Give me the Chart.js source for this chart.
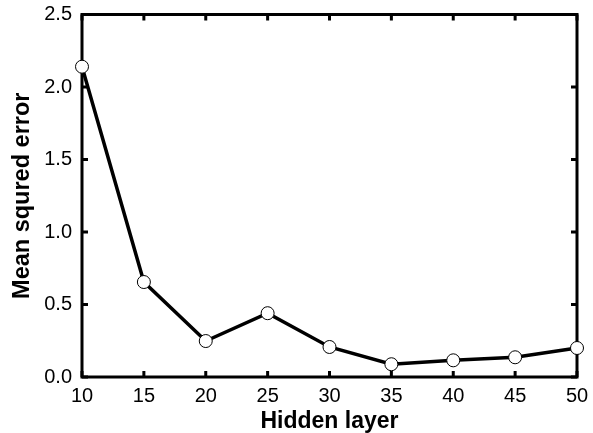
<!DOCTYPE html>
<html>
<head>
<meta charset="utf-8">
<script src="https://cdn.jsdelivr.net/npm/chart.js@4/dist/chart.umd.min.js"></script>
<style>
html,body{margin:0;padding:0;background:#fff;}
#wrap{width:593px;height:433px;position:relative;}
</style>
</head>
<body>
<div id="wrap"><canvas id="c" width="593" height="433"></canvas></div>
<script>
const hiddenLayers = [10, 15, 20, 25, 30, 35, 40, 45, 50];
const mseValues = [2.14, 0.655, 0.248, 0.44, 0.207, 0.088, 0.115, 0.136, 0.20];
const xTicks = [10, 15, 20, 25, 30, 35, 40, 45, 50];
const yTicks = [0.0, 0.5, 1.0, 1.5, 2.0, 2.5];
const xTitle = 'Hidden layer';
const yTitle = 'Mean squred error';

const FONT = "'Liberation Sans', Arial, sans-serif";

const framePlugin = {
  id: 'frame',
  beforeDatasetsDraw(chart) {
    const {ctx, chartArea: a, scales} = chart;
    const tl = 6;
    ctx.save();
    ctx.strokeStyle = '#000';
    ctx.lineWidth = 3;
    ctx.lineCap = 'butt';
    ctx.beginPath();
    xTicks.forEach(v => {
      const px = scales.x.getPixelForValue(v);
      ctx.moveTo(px, a.bottom); ctx.lineTo(px, a.bottom - tl);
      ctx.moveTo(px, a.top); ctx.lineTo(px, a.top + tl);
    });
    yTicks.forEach(v => {
      const py = scales.y.getPixelForValue(v);
      ctx.moveTo(a.left, py); ctx.lineTo(a.left + tl, py);
      ctx.moveTo(a.right, py); ctx.lineTo(a.right - tl, py);
    });
    ctx.stroke();
    ctx.lineJoin = 'miter';
    ctx.strokeRect(a.left, a.top, a.right - a.left, a.bottom - a.top);
    ctx.restore();
  }
};

new Chart(document.getElementById('c'), {
  type: 'line',
  data: {
    datasets: [{
      data: hiddenLayers.map((x, i) => ({x: x, y: mseValues[i]})),
      borderColor: '#000',
      borderWidth: 3.5,
      pointRadius: 6.5,
      pointBackgroundColor: '#fff',
      pointBorderColor: '#000',
      pointBorderWidth: 1,
      tension: 0,
      clip: false
    }]
  },
  options: {
    responsive: false,
    animation: false,
    devicePixelRatio: 1,
    layout: {padding: {top: 14.5, right: 16, left: 0, bottom: 0}},
    plugins: {legend: {display: false}, tooltip: {enabled: false}},
    scales: {
      x: {
        type: 'linear',
        min: 10, max: 50,
        afterBuildTicks: s => { s.ticks = xTicks.map(v => ({value: v})); },
        afterFit: s => { s.height = 56; s.paddingLeft = 0; s.paddingRight = 0; },
        grid: {display: false, drawTicks: false},
        border: {display: false},
        ticks: {color: '#000', font: {family: FONT, size: 20}, padding: 7, maxRotation: 0,
                callback: v => String(v)},
        title: {display: true, text: xTitle, color: '#000',
                font: {family: FONT, size: 23, weight: 'bold'}, padding: {top: 0, bottom: -2}}
      },
      y: {
        type: 'linear',
        min: 0, max: 2.5,
        afterBuildTicks: s => { s.ticks = yTicks.map(v => ({value: v})); },
        afterFit: s => { s.width = 82; s.paddingTop = 0; s.paddingBottom = 0; },
        grid: {display: false, drawTicks: false},
        border: {display: false},
        ticks: {color: '#000', font: {family: FONT, size: 20}, padding: 10,
                callback: v => Number(v).toFixed(1)},
        title: {display: true, text: yTitle, color: '#000',
                font: {family: FONT, size: 23.5, weight: 'bold'}, padding: {top: 8, bottom: 0}}
      }
    }
  },
  plugins: [framePlugin]
});
</script>
</body>
</html>
